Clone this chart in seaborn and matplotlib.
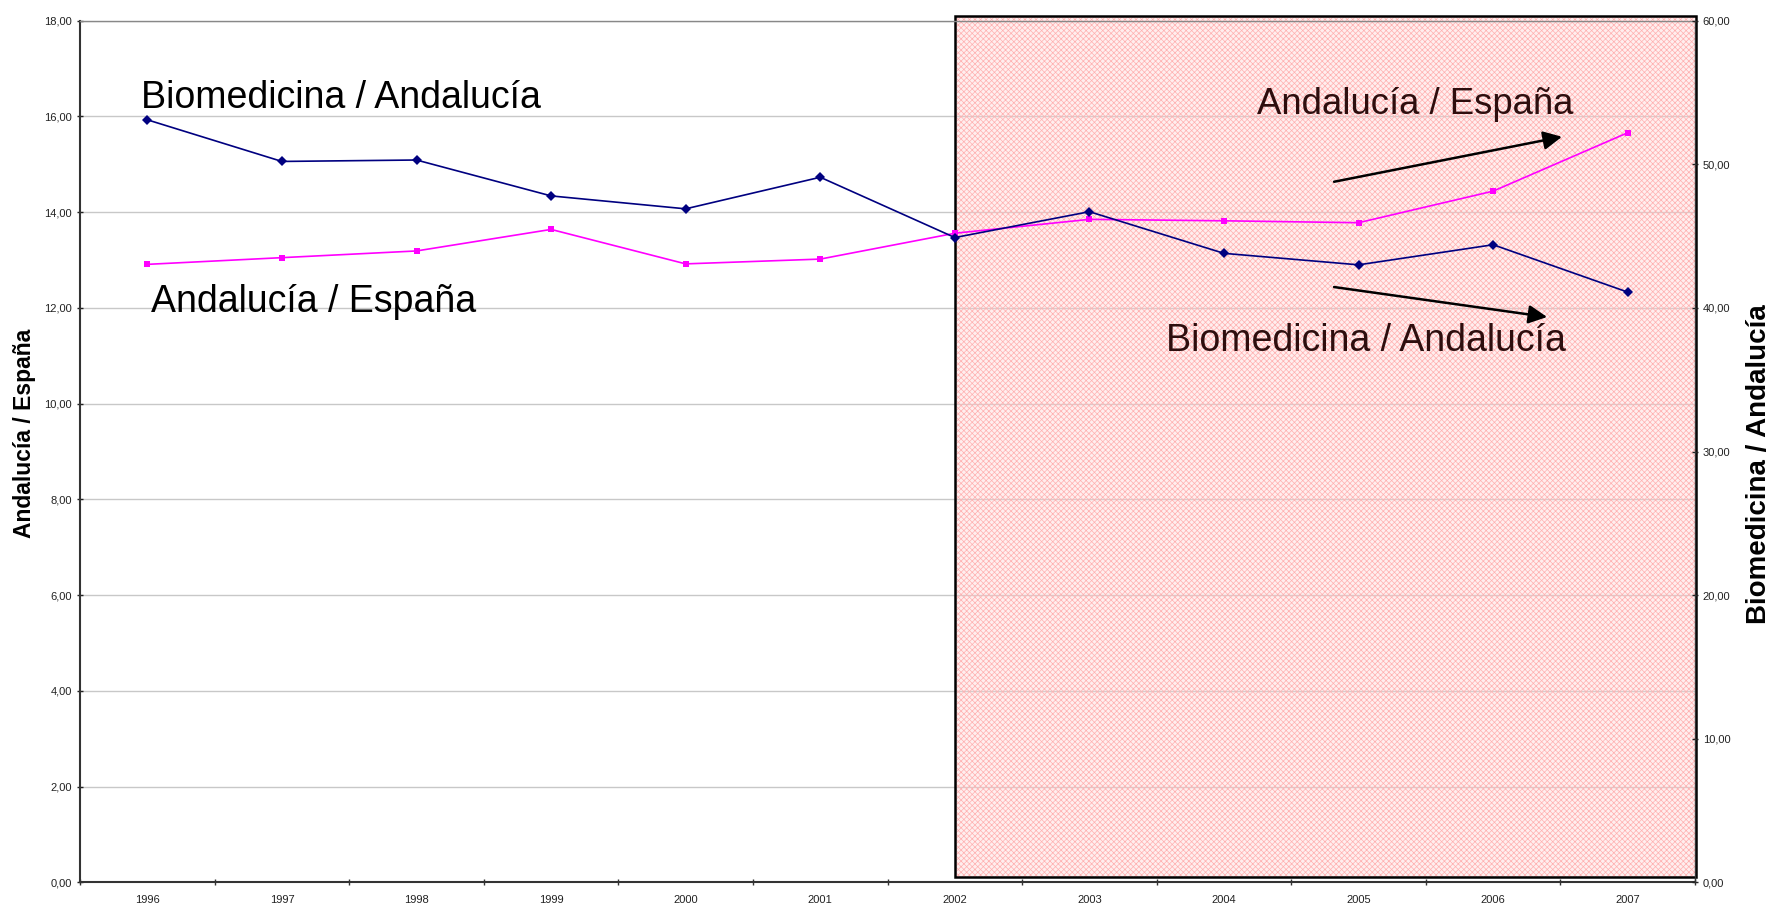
import numpy as np
import pandas as pd
import matplotlib
matplotlib.use("Agg")
import matplotlib.pyplot as plt
import seaborn as sns
from matplotlib.patches import Rectangle
from matplotlib.ticker import FixedLocator, FuncFormatter

# ---------------- data ----------------
years = ["1996", "1997", "1998", "1999", "2000", "2001",
         "2002", "2003", "2004", "2005", "2006", "2007"]
andalucia_espana = [12.91, 13.05, 13.19, 13.64, 12.92, 13.02,
                    13.56, 13.85, 13.82, 13.78, 14.44, 15.66]
biomedicina_andalucia = [53.1, 50.2, 50.3, 47.8, 46.9, 49.1,
                         44.9, 46.7, 43.8, 43.0, 44.4, 41.1]
left_ticks = [0, 2, 4, 6, 8, 10, 12, 14, 16, 18]
right_ticks = [0, 10, 20, 30, 40, 50, 60]
left_label = "Andalucía / España"
right_label = "Biomedicina / Andalucía"

sns.set_theme(style="white")
plt.rcParams["font.family"] = ["Liberation Sans", "DejaVu Sans"]
plt.rcParams["hatch.linewidth"] = 0.5

fig = plt.figure(figsize=(17.71, 9.05), dpi=100)
ax = fig.add_axes([0.0452, 0.0251, 0.9119, 0.952])
ax2 = ax.twinx()

pos = np.arange(len(years))
df = pd.DataFrame({"pos": pos, "ae": andalucia_espana, "ba": biomedicina_andalucia})

# shaded highlight box (2002 onwards)
fill = Rectangle((6.0, 0.11), 5.51, 17.99, facecolor=(1.0, 0.82, 0.82, 0.35),
                 edgecolor="#ffb0b0", hatch="xxxxxx", linewidth=0, zorder=0.6,
                 clip_on=False)
ax.add_patch(fill)
border = Rectangle((6.0, 0.11), 5.51, 17.99, facecolor="none", edgecolor="black",
                   linewidth=1.8, zorder=0.7, clip_on=False)
ax.add_patch(border)

sns.lineplot(data=df, x="pos", y="ae", ax=ax, color="#ff00ff", marker="s",
             markersize=5, markeredgewidth=0, linewidth=1.2, zorder=3)
sns.lineplot(data=df, x="pos", y="ba", ax=ax2, color="#000080", marker="D",
             markersize=5, markeredgewidth=0, linewidth=1.2, zorder=3)

fmt = FuncFormatter(lambda v, p: f"{v:.2f}".replace(".", ","))
ax.set_xlim(-0.5, len(years) - 0.5)
ax.set_ylim(0, 18)
ax2.set_ylim(0, 60)
ax.set_yticks(left_ticks)
ax.yaxis.set_major_formatter(fmt)
ax2.set_yticks(right_ticks)
ax2.yaxis.set_major_formatter(fmt)

ax.set_xticks(pos)
ax.set_xticklabels(years)
ax.xaxis.set_minor_locator(FixedLocator(np.arange(-0.5, len(years), 1.0)))
ax.tick_params(axis="x", which="major", length=0, labelsize=8, pad=9, colors="#222222")
ax.tick_params(axis="x", which="minor", length=5, width=1, direction="inout", bottom=True, color="#333333")
ax.tick_params(axis="y", which="major", length=5, width=1, direction="inout", labelsize=8,
               left=True, colors="#222222")
ax2.tick_params(axis="y", which="major", length=5, width=1, direction="inout", labelsize=8,
                right=True, colors="#222222", pad=3)

ax.grid(axis="y", color="#c8c8c8", linewidth=1)
ax.set_axisbelow(True)

for s in ["left", "bottom"]:
    ax.spines[s].set_color("#333333")
    ax.spines[s].set_linewidth(1.5)
ax.spines["top"].set_color("#888888")
ax.spines["top"].set_linewidth(1)
ax.spines["right"].set_visible(False)
for s in ["top", "left", "bottom"]:
    ax2.spines[s].set_visible(False)
ax2.spines["right"].set_color("#333333")
ax2.spines["right"].set_linewidth(1)

ax.set_xlabel("")
ax.set_ylabel(left_label, fontsize=16.5, fontweight="bold", color="black")
ax.yaxis.set_label_coords(-0.0347, 0.5215)
ax.yaxis.label.set_verticalalignment("center")
ax.yaxis.label.set_horizontalalignment("center")
ax2.set_ylabel(right_label, fontsize=20, fontweight="bold", color="black")
ax2.yaxis.set_label_coords(1.0396, 0.4855)
ax2.yaxis.label.set_verticalalignment("center")
ax2.yaxis.label.set_horizontalalignment("center")

# annotations
ax.text(0.0378, 0.910, "Biomedicina / Andalucía", transform=ax.transAxes,
        fontsize=27, ha="left", va="center", color="black", zorder=5)
ax.text(0.044, 0.6735, "Andalucía / España", transform=ax.transAxes,
        fontsize=27, ha="left", va="center", color="black", zorder=5)
ax2.text(0.7288, 0.9033, "Andalucía / España", transform=ax.transAxes,
         fontsize=26.3, ha="left", va="center", color="#2e0e0e", zorder=5)
ax2.text(0.6724, 0.6283, "Biomedicina / Andalucía", transform=ax.transAxes,
         fontsize=27, ha="left", va="center", color="#2e0e0e", zorder=5)

arrow = dict(arrowstyle="-|>", mutation_scale=28, lw=1.8, color="black",
             shrinkA=0, shrinkB=0)
ax2.annotate("", xy=(0.9176, 0.8653), xytext=(0.7765, 0.8131),
             xycoords=ax.transAxes, textcoords=ax.transAxes, arrowprops=arrow)
ax2.annotate("", xy=(0.9084, 0.6561), xytext=(0.7765, 0.6909),
             xycoords=ax.transAxes, textcoords=ax.transAxes, arrowprops=arrow)

fig.savefig("out.png", dpi=100)
